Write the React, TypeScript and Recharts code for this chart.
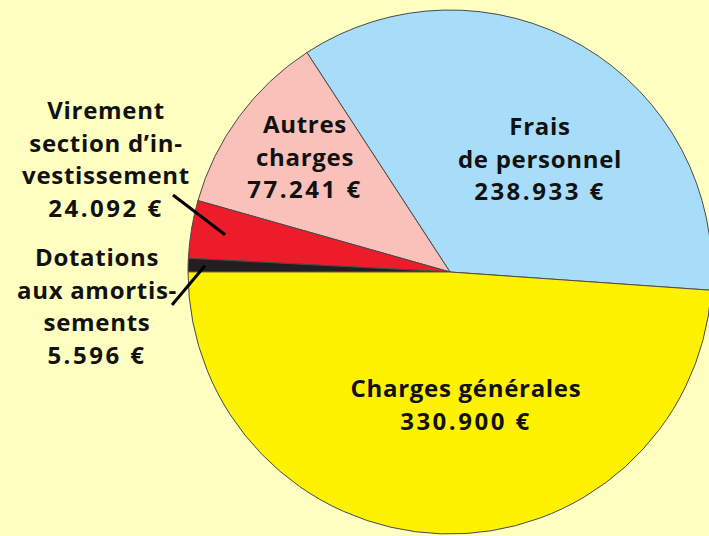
import { PieChart, Pie, Cell } from "recharts";

const categories = [
  "Frais de personnel",
  "Autres charges",
  "Virement section d'investissement",
  "Dotations aux amortissements",
  "Charges générales",
];
const amounts = [238933, 77241, 24092, 5596, 330900];
const sliceColors = ["#A8DDF9", "#F9C1B9", "#ED1C2A", "#231F20", "#FFF200"];
const labelLines = [
  ["Frais", "de personnel"],
  ["Autres", "charges"],
  ["Virement", "section d\u2019in-", "vestissement"],
  ["Dotations", "aux amortis-", "sements"],
  ["Charges générales"],
];

// label block placement relative to the pie centre: [x, first baseline]
const labelPos: [number, number][] = [
  [90, -137],
  [-145, -139],
  [-344, -153],
  [-353, -6],
  [16, 125],
];
// leader lines for the thin slices: [text end x, text end y, radius fraction]
const leaders: (null | [number, number, number])[] = [
  null,
  null,
  [-277, -77, 0.87],
  [-278, 33, 0.935],
  null,
];

const data = categories.map((name, i) => ({ name, value: amounts[i] }));

const formatEuro = (v: number) =>
  v.toString().replace(/\B(?=(\d{3})+(?!\d))/g, ".") + " \u20AC";

const RAD = Math.PI / 180;
const LINE_H = 32.5;

function renderLabel(props: any) {
  const { cx, cy, midAngle, outerRadius, index, value } = props;
  const [lx, ly] = labelPos[index];
  const lines = labelLines[index];
  const leader = leaders[index];
  const x = cx + lx;
  return (
    <g>
      {leader && (
        <line
          x1={cx + leader[0]}
          y1={cy + leader[1]}
          x2={cx + outerRadius * leader[2] * Math.cos(midAngle * RAD)}
          y2={cy - outerRadius * leader[2] * Math.sin(midAngle * RAD)}
          stroke="#000"
          strokeWidth={3}
        />
      )}
      <text
        x={x}
        y={cy + ly}
        textAnchor="middle"
        fill="#111"
        fontFamily="'Open Sans', sans-serif"
        fontWeight={700}
        fontSize={24}
        letterSpacing={0.7}
      >
        {lines.map((t, i) => (
          <tspan key={i} x={x} y={cy + ly + i * LINE_H}>
            {t}
          </tspan>
        ))}
        <tspan x={x} y={cy + ly + lines.length * LINE_H} letterSpacing={2.5}>
          {formatEuro(value)}
        </tspan>
      </text>
    </g>
  );
}

export default function App() {
  return (
    <div
      style={{
        position: "absolute",
        left: 0,
        top: 0,
        width: 709,
        height: 536,
        background: "#FFFFC2",
        overflow: "hidden",
      }}
    >
      <PieChart width={709} height={536} margin={{ top: 0, right: 0, bottom: 0, left: 0 }}>
        <Pie
          data={data}
          dataKey="value"
          nameKey="name"
          cx={450}
          cy={272}
          outerRadius={262}
          startAngle={-4}
          endAngle={356}
          stroke="#4a4a4a"
          strokeWidth={1}
          label={renderLabel}
          labelLine={false}
          isAnimationActive={false}
        >
          {data.map((d, i) => (
            <Cell key={d.name} fill={sliceColors[i]} />
          ))}
        </Pie>
      </PieChart>
    </div>
  );
}
